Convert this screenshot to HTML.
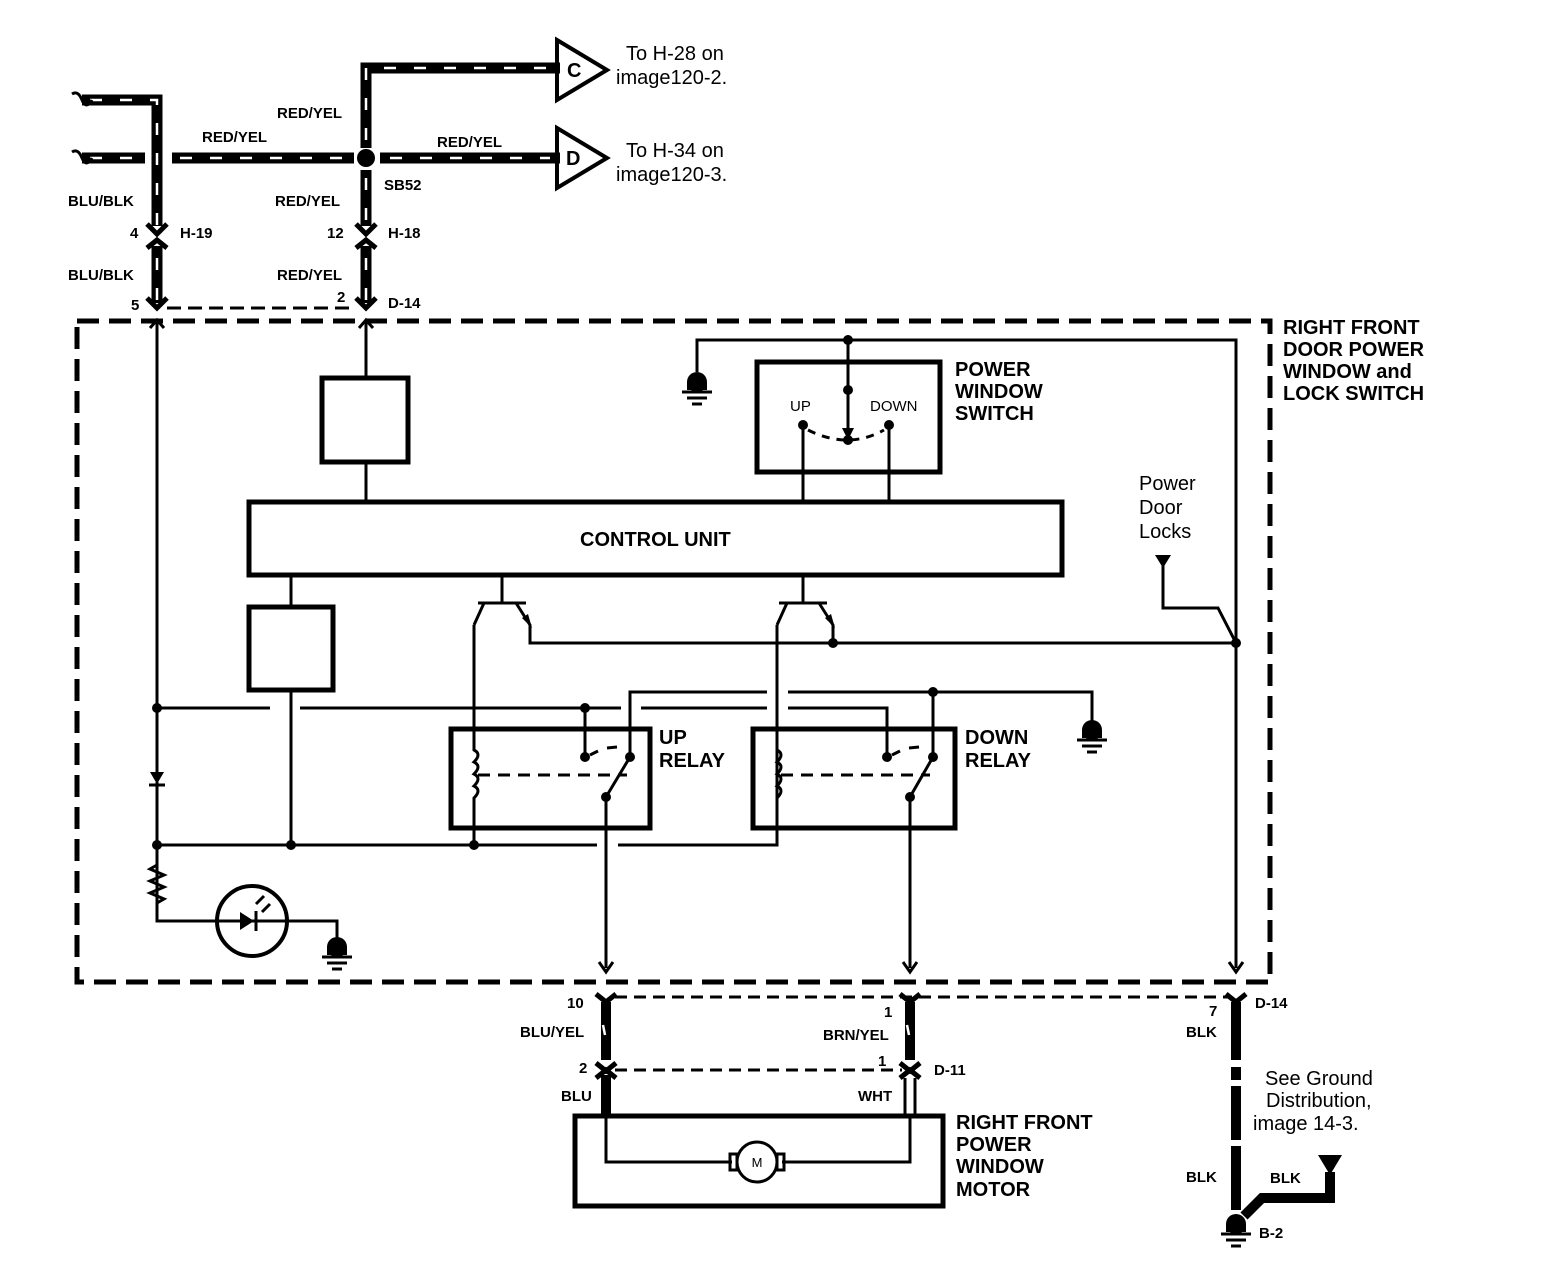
<!DOCTYPE html>
<html><head><meta charset="utf-8"><style>
html,body{margin:0;padding:0;background:#fff;}
svg{display:block;}
text{font-family:"Liberation Sans",Arial,sans-serif;fill:#000;}
.b{font-weight:bold;font-size:15px;}
.h{font-weight:bold;font-size:20px;}
.n{font-size:20px;}
</style></head><body>
<svg width="1568" height="1262" viewBox="0 0 1568 1262" xmlns="http://www.w3.org/2000/svg">
<defs>
<g id="gnd"><circle cx="0" cy="-8" r="10" fill="#000"/><rect x="-10" y="-8" width="20" height="8" fill="#000"/><line x1="-15" y1="2" x2="15" y2="2" stroke="#000" stroke-width="3"/><line x1="-10" y1="8" x2="10" y2="8" stroke="#000" stroke-width="3"/><line x1="-5" y1="14" x2="5" y2="14" stroke="#000" stroke-width="3"/></g>
</defs>
<g fill="none" stroke="#000">
<g stroke-width="11">
<path d="M82,100 H157 V226"/>
<path d="M82,158 H145"/>
<path d="M172,158 H354"/>
<path d="M380,158 H560"/>
<path d="M366,148 V68 H560"/>
<path d="M366,170 V226"/>
<path d="M157,246 V303"/>
<path d="M366,246 V303"/>
</g>
<g stroke="#fff" stroke-width="2.5" stroke-dasharray="12 18">
<path d="M90,100 H157 V226"/><path d="M90,158 H145"/><path d="M180,158 H354"/><path d="M390,158 H550"/>
<path d="M366,140 V68 H550"/><path d="M366,178 V226"/><path d="M157,258 V300"/><path d="M366,258 V300"/>
</g>
<path d="M72,94 q6,-4 10,6 q4,10 10,0" stroke-width="3"/>
<path d="M72,152 q6,-4 10,6 q4,10 10,0" stroke-width="3"/>
<path d="M147,224 l10,10 l10,-10 M147,248 l10,-8 l10,8" stroke-width="5"/>
<path d="M356,224 l10,10 l10,-10 M356,248 l10,-8 l10,8" stroke-width="5"/>
<path d="M147,298 l10,10 l10,-10" stroke-width="5"/>
<path d="M356,298 l10,10 l10,-10" stroke-width="5"/>
<path d="M167,308 H356" stroke-width="3" stroke-dasharray="14 7"/>
<path d="M557,40 L607,70 L557,100 Z" stroke-width="4"/>
<path d="M557,128 L607,158 L557,188 Z" stroke-width="4"/>
<rect x="77" y="321" width="1193" height="661" stroke-width="5" stroke-dasharray="22 10"/>
<g stroke-width="3">
<path d="M157,322 V778 M157,782 V908"/>
<path d="M150,328 l7,-8 l7,8 M359,328 l7,-8 l7,8"/>
<path d="M366,322 V378 M366,462 V502"/>
<rect x="322" y="378" width="86" height="84" stroke-width="5"/>
<rect x="249" y="502" width="813" height="73" stroke-width="5"/>
<rect x="249" y="607" width="84" height="83" stroke-width="5"/>
<path d="M291,575 V607 M291,690 V845"/>
<path d="M157,845 H597 M618,845 H777 V625"/>
<path d="M157,708 H270 M300,708 H621 M641,708 H767 M788,708 H887 V757"/>
<path d="M585,708 V757"/>
<path d="M630,757 V692 H767 M788,692 H1092 V728"/>
<path d="M933,692 V757"/>
<rect x="451" y="729" width="199" height="99" stroke-width="5"/>
<rect x="753" y="729" width="202" height="99" stroke-width="5"/>
<path d="M474,625 V750 q8,4 0,12 q8,4 0,12 q8,4 0,12 q8,4 0,12 V845"/>
<path d="M777,700 V750 q8,4 0,12 q8,4 0,12 q8,4 0,12 q8,4 0,12 V828"/>
<path d="M478,775 H627 M781,775 H930" stroke-dasharray="12 8"/>
<path d="M590,755 L598,751 M607,748 L617,747" />
<path d="M892,755 L900,751 M909,748 L919,747" />
<path d="M606,797 L630,757 M606,797 V968"/>
<path d="M910,797 L933,757 M910,797 V968"/>
<path d="M599,962 l7,10 l7,-10 M903,962 l7,10 l7,-10 M1229,962 l7,10 l7,-10"/>
<path d="M502,575 V603 M478,603 H526 M474,625 L484,603 M516,603 L530,625 V643 H1236"/>
<path d="M803,575 V603 M779,603 H827 M777,625 L787,603 M819,603 L833,625 V643"/>
<rect x="757" y="362" width="183" height="110" stroke-width="5"/>
<path d="M697,372 V340 H1236 V968"/>
<path d="M848,340 V430"/>
<path d="M803,425 V502 M889,425 V502"/>
<path d="M808,430 Q848,450 884,430" stroke-dasharray="8 7"/>
<path d="M1163,565 V608 H1218 L1236,643"/>
<path d="M157,865 l-7,4 l14,6 l-14,6 l14,6 l-14,6 l14,6 l-7,4 V921 H337 V940"/>
<circle cx="252" cy="921" r="35" stroke-width="4"/>
<path d="M256,904 l8,-8 M262,912 l8,-8"/>
<path d="M615,997 H1228" stroke-width="3" stroke-dasharray="12 7"/>
<path d="M615,1070 H902" stroke-width="3" stroke-dasharray="12 7"/>
<rect x="575" y="1116" width="368" height="90" stroke-width="5"/>
<path d="M606,1115 V1162 H732 M782,1162 H910 V1115"/>
<circle cx="757" cy="1162" r="20"/>
<rect x="730" y="1154" width="7" height="16"/>
<rect x="777" y="1154" width="7" height="16"/>
<path d="M905,1078 V1115 M915,1078 V1115"/>
</g>
</g>
<g stroke="#000" fill="none" stroke-width="10">
<path d="M606,1002 V1060 M910,1002 V1060 M606,1075 V1116"/>
<path d="M1236,1002 V1060 M1236,1067 V1080 M1236,1086 V1140 M1236,1146 V1210"/>
<path d="M1244,1216 L1262,1198 H1330 V1172"/>
</g>
<g stroke="#fff" stroke-width="2.5"><path d="M603,1025 l2,10 M907,1025 l2,10"/><path d="M1228,1062 H1244 M1228,1143 H1244"/></g>
<g stroke="#000" stroke-width="5" fill="none">
<path d="M596,994 l10,8 l10,-8 M900,994 l10,8 l10,-8 M1226,994 l10,8 l10,-8"/>
<path d="M596,1063 l10,8 l10,-8 M900,1063 l10,8 l10,-8"/>
<path d="M596,1078 l10,-8 l10,8 M900,1078 l10,-8 l10,8"/>
</g>
<g fill="#000">
<path d="M1318,1155 H1342 L1330,1175 Z"/>
<path d="M1155,555 H1171 L1163,568 Z"/>
<path d="M150,772 H164 L157,784 Z"/>
<path d="M240,912 V930 L254,921 Z"/>
<path d="M842,428 H854 L848,440 Z"/>
<path d="M522,618 L532,628 L528,614 Z"/>
<path d="M825,618 L835,628 L831,614 Z"/>
</g>
<line x1="149" y1="785" x2="165" y2="785" stroke="#000" stroke-width="3"/>
<line x1="256" y1="911" x2="256" y2="931" stroke="#000" stroke-width="3"/>
<g fill="#000">
<circle cx="366" cy="158" r="9"/>
<circle cx="157" cy="708" r="5"/><circle cx="157" cy="845" r="5"/><circle cx="291" cy="845" r="5"/><circle cx="474" cy="845" r="5"/>
<circle cx="585" cy="708" r="5"/><circle cx="585" cy="757" r="5"/><circle cx="630" cy="757" r="5"/><circle cx="606" cy="797" r="5"/>
<circle cx="887" cy="757" r="5"/><circle cx="933" cy="757" r="5"/><circle cx="910" cy="797" r="5"/><circle cx="933" cy="692" r="5"/>
<circle cx="833" cy="643" r="5"/><circle cx="1236" cy="643" r="5"/>
<circle cx="848" cy="340" r="5"/><circle cx="848" cy="390" r="5"/><circle cx="803" cy="425" r="5"/><circle cx="889" cy="425" r="5"/><circle cx="848" cy="440" r="5"/>
</g>
<use href="#gnd" x="697" y="390"/><use href="#gnd" x="1092" y="738"/><use href="#gnd" x="337" y="955"/><use href="#gnd" x="1236" y="1232"/>
<text x="757" y="1167" font-size="13" text-anchor="middle">M</text>
<text x="567" y="77" class="h">C</text><text x="566" y="165" class="h">D</text>
<text x="626" y="60" class="n">To H-28 on</text><text x="616" y="84" class="n">image120-2.</text>
<text x="626" y="157" class="n">To H-34 on</text><text x="616" y="181" class="n">image120-3.</text>
<text x="277" y="118" class="b">RED/YEL</text><text x="202" y="142" class="b">RED/YEL</text><text x="437" y="147" class="b">RED/YEL</text>
<text x="384" y="190" class="b" font-size="13">SB52</text>
<text x="68" y="206" class="b">BLU/BLK</text><text x="275" y="206" class="b">RED/YEL</text>
<text x="130" y="238" class="b">4</text><text x="180" y="238" class="b">H-19</text>
<text x="327" y="238" class="b">12</text><text x="388" y="238" class="b">H-18</text>
<text x="68" y="280" class="b">BLU/BLK</text><text x="277" y="280" class="b">RED/YEL</text>
<text x="131" y="310" class="b">5</text><text x="337" y="302" class="b">2</text><text x="388" y="308" class="b">D-14</text>
<text x="1283" y="334" class="h">RIGHT FRONT</text><text x="1283" y="356" class="h">DOOR POWER</text><text x="1283" y="378" class="h">WINDOW and</text><text x="1283" y="400" class="h">LOCK SWITCH</text>
<text x="955" y="376" class="h">POWER</text><text x="955" y="398" class="h">WINDOW</text><text x="955" y="420" class="h">SWITCH</text>
<text x="790" y="411" font-size="15">UP</text><text x="870" y="411" font-size="15">DOWN</text>
<text x="580" y="546" class="h">CONTROL UNIT</text>
<text x="1139" y="490" class="n">Power</text><text x="1139" y="514" class="n">Door</text><text x="1139" y="538" class="n">Locks</text>
<text x="659" y="744" class="h">UP</text><text x="659" y="767" class="h">RELAY</text>
<text x="965" y="744" class="h">DOWN</text><text x="965" y="767" class="h">RELAY</text>
<text x="567" y="1008" class="b">10</text><text x="520" y="1037" class="b">BLU/YEL</text><text x="579" y="1073" class="b">2</text><text x="561" y="1101" class="b">BLU</text>
<text x="884" y="1017" class="b">1</text><text x="823" y="1040" class="b">BRN/YEL</text><text x="878" y="1066" class="b">1</text><text x="934" y="1075" class="b">D-11</text><text x="858" y="1101" class="b">WHT</text>
<text x="1255" y="1008" class="b">D-14</text><text x="1209" y="1016" class="b">7</text><text x="1186" y="1037" class="b">BLK</text>
<text x="1265" y="1085" class="n">See Ground</text><text x="1266" y="1107" class="n">Distribution,</text><text x="1253" y="1130" class="n">image 14-3.</text>
<text x="1186" y="1182" class="b">BLK</text><text x="1270" y="1183" class="b">BLK</text><text x="1259" y="1238" class="b">B-2</text>
<text x="956" y="1129" class="h">RIGHT FRONT</text><text x="956" y="1151" class="h">POWER</text><text x="956" y="1173" class="h">WINDOW</text><text x="956" y="1196" class="h">MOTOR</text>
</svg>
</body></html>
